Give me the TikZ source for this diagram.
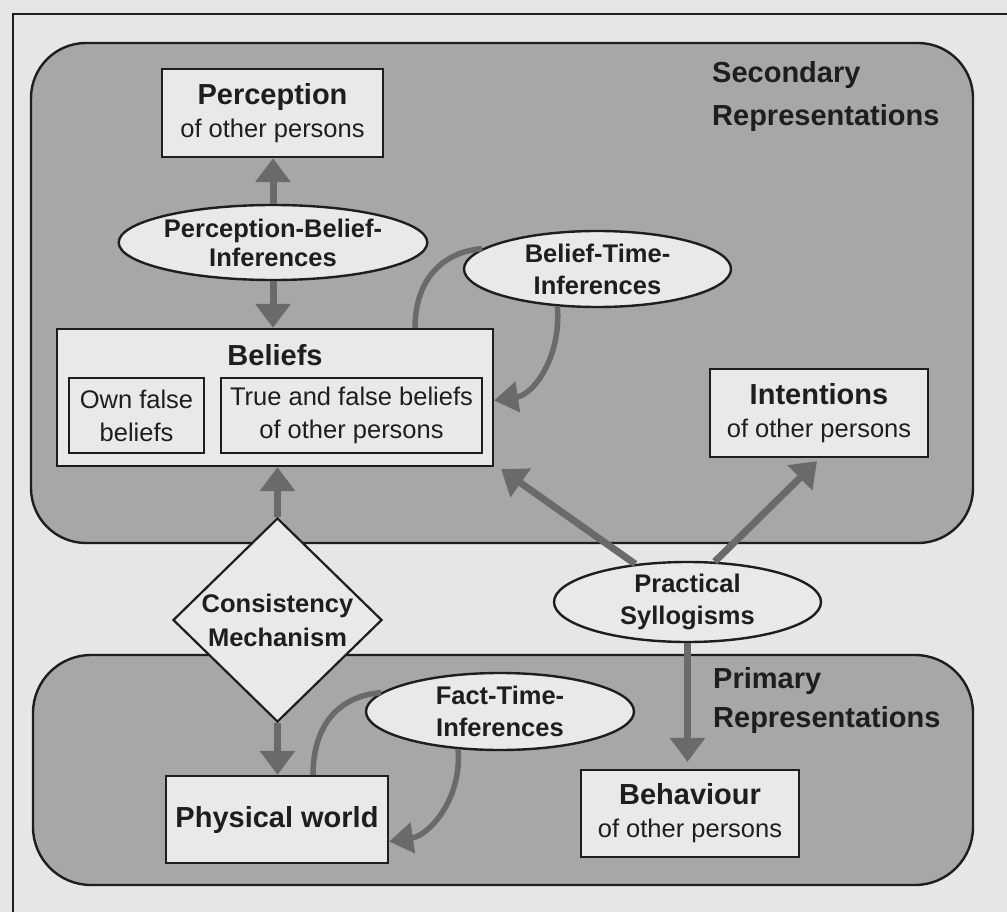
\documentclass[tikz,border=0pt]{standalone}
\usepackage{fontspec}
\setmainfont{Liberation Sans}
\usetikzlibrary{arrows.meta,shapes.geometric}

\definecolor{paper}{HTML}{E6E6E8}
\definecolor{zone}{HTML}{A7A7A9}
\definecolor{boxfill}{HTML}{E9E9EB}
\definecolor{arrowgray}{HTML}{6A6A6C}
\definecolor{ink}{HTML}{1E1E1E}

% font sizes
\newcommand{\dgHead}{\bfseries\fontsize{29}{34}\selectfont}
\newcommand{\dgBody}{\fontsize{25.5}{33}\selectfont}
\newcommand{\dgOval}{\bfseries\fontsize{25.5}{32}\selectfont}
\newcommand{\dgRegion}{\bfseries\fontsize{29}{43}\selectfont}

\begin{document}
\begin{tikzpicture}[x=1pt,y=-1pt,
  zonebox/.style={draw=ink, line width=2.4pt, fill=zone},
  plainbox/.style={rectangle, draw=ink, line width=2.2pt, fill=boxfill,
    inner sep=0pt, align=center, text=ink, font=\dgBody},
  subbox/.style={plainbox, line width=1.8pt},
  oval/.style={ellipse, draw=ink, line width=2.4pt, fill=boxfill,
    inner sep=0pt, align=center, text=ink, font=\dgOval},
  rhomb/.style={diamond, draw=ink, line width=2.2pt, fill=boxfill,
    inner sep=0pt},
  regionlabel/.style={anchor=north west, inner sep=0pt, align=left,
    text=ink, font=\dgRegion},
  arr/.style={draw=arrowgray, line width=7pt,
    -{Triangle[width=34pt,length=24pt]}},
  curvarr/.style={draw=arrowgray, line width=5.5pt,
    -{Triangle[width=30pt,length=24pt]}},
  curvline/.style={draw=arrowgray, line width=5.5pt}
]
% page and frame
\fill[paper] (0,0) rectangle (1007,912);
\useasboundingbox (0,0) rectangle (1007,912);
\draw[ink, line width=2.4pt] (13,912) -- (13,14) -- (1007,14);

% the two representation zones
\draw[zonebox, rounded corners=55pt] (31,43) rectangle (973,543);
\draw[zonebox, rounded corners=58pt] (33,655) rectangle (973,885);

\node[regionlabel] (seclbl) at (712,61) {Secondary\\Representations};
\node[regionlabel] (primlbl) at (713,667) {Primary\\[-4pt]Representations};

% boxes
\node[plainbox, minimum width=221pt, minimum height=88pt] (perc) at (272.5,113)
  {{\dgHead Perception}\\of other persons};
\node[plainbox, minimum width=436pt, minimum height=137pt] (bel) at (275,397.5) {};
\node[anchor=north, inner sep=0pt, text=ink, font=\dgHead] (beltitle)
  at ([yshift=-16pt]bel.north) {Beliefs};
\node[subbox, minimum width=135pt, minimum height=75pt] (own) at (136.5,415.5)
  {Own false\\beliefs};
\node[subbox, minimum width=261pt, minimum height=75pt] (others) at (351.5,415.5)
  {True and false beliefs\\of other persons};
\node[plainbox, minimum width=218pt, minimum height=88pt] (intent) at (819,413)
  {{\dgHead Intentions}\\of other persons};
\node[plainbox, minimum width=222pt, minimum height=87pt, font=\dgHead] (phys)
  at (277,819.5) {Physical world};
\node[plainbox, minimum width=218pt, minimum height=87pt] (behav) at (690,813.5)
  {{\dgHead Behaviour}\\of other persons};

% inference ovals
\node[oval, minimum width=268pt, minimum height=75pt] (pbi) at (273,242.5)
  {Perception-Belief-\\[-3pt]Inferences};
\node[oval, minimum width=267pt, minimum height=76pt] (bti) at (597.5,269)
  {Belief-Time-\\Inferences};
\node[oval, minimum width=267pt, minimum height=80pt] (ps) at (687.5,602)
  {Practical\\Syllogisms};
\node[oval, minimum width=268pt, minimum height=77pt] (fti) at (500,711.5)
  {Fact-Time-\\Inferences};

% consistency mechanism
\node[rhomb, minimum width=209pt, minimum height=204pt] (cm) at (277.5,620) {};
\node[inner sep=0pt, align=center, text=ink,
  font=\bfseries\fontsize{25.5}{34}\selectfont] (cmtext) at (cm.center)
  {Consistency\\Mechanism};

% straight connectors
\draw[arr] (pbi.north) -- (pbi.north |- perc.south);
\draw[arr] (pbi.south) -- (pbi.south |- bel.north);
\draw[arr] (cm.north) -- (cm.north |- bel.south);
\draw[arr] (cm.south) -- (cm.south |- phys.north);
\draw[arr] (ps.144) -- ([xshift=7pt,yshift=-2pt]bel.south east);
\draw[arr] (ps.56) -- ([xshift=-2pt,yshift=-3pt]intent.south);
\draw[arr, shorten >=7pt] (ps.south) -- (ps.south |- behav.north);

% belief-time loop
\draw[curvline] ([xshift=140pt]bel.north) .. controls +(0,-48) and +(-40,3) .. (bti.170);
\draw[curvarr] (bti.223) .. controls +(4,50) and +(40,-6) .. ([yshift=-3pt]bel.east);

% fact-time loop
\draw[curvline] ([xshift=36pt]phys.north) .. controls +(0,-52) and +(-40,3) .. (fti.171);
\draw[curvarr] (fti.222) .. controls +(4,50) and +(40,-6) .. ([yshift=-22pt]phys.east);
\end{tikzpicture}
\end{document}
